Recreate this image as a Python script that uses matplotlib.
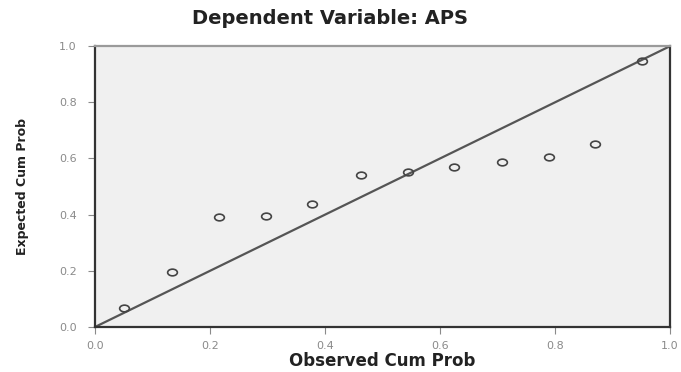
import numpy as np
import matplotlib.pyplot as plt
from matplotlib.path import Path
from matplotlib.transforms import Affine2D

# P-P plot of regression standardized residual
observed = [0.050, 0.134, 0.215, 0.297, 0.378, 0.462, 0.544, 0.625, 0.707, 0.789, 0.870, 0.952]
expected = [0.068, 0.197, 0.391, 0.395, 0.438, 0.541, 0.552, 0.569, 0.587, 0.605, 0.651, 0.947]
ticks = [0.0, 0.2, 0.4, 0.6, 0.8, 1.0]
tick_labels = ['0.0', '0.2', '0.4', '0.6', '0.8', '1.0']

# wide open ellipse marker like the SPSS one
ellipse = Path.unit_circle().transformed(Affine2D().scale(1.45, 1.0))

fig = plt.figure(figsize=(6.81, 3.72), dpi=100)
ax = fig.add_axes([0.1395, 0.121, 0.8445, 0.755])
ax.set_facecolor('#f0f0f0')

ax.plot([0, 1], [0, 1], color='#555555', linewidth=1.6, zorder=2)
ax.plot(observed, expected, linestyle='none', marker=ellipse, markersize=7,
        markerfacecolor='none', markeredgecolor='#444444', markeredgewidth=1.2, zorder=3)

ax.set_xlim(0, 1)
ax.set_ylim(0, 1)
ax.set_xticks(ticks)
ax.set_xticklabels(tick_labels)
ax.set_yticks(ticks)
ax.set_yticklabels(tick_labels)
ax.tick_params(axis='both', labelsize=8, labelcolor='#8a8a8a', color='#8a8a8a',
               length=5, width=0.8, pad=5)
ax.tick_params(axis='y', pad=8)

for side in ['left', 'bottom', 'right']:
    ax.spines[side].set_color('#333333')
    ax.spines[side].set_linewidth(1.6)
ax.spines['top'].set_color('#9a9a9a')
ax.spines['top'].set_linewidth(1.6)

ax.set_xlabel('Observed Cum Prob', fontsize=12, fontweight='bold', color='#222222', labelpad=1)
ax.set_ylabel('Expected Cum Prob', fontsize=9, fontweight='bold', color='#222222', labelpad=22)
fig.text(0.485, 0.95, 'Dependent Variable: APS', ha='center', va='center',
         fontsize=14, fontweight='bold', color='#222222')

fig.savefig('out.png', dpi=100)
